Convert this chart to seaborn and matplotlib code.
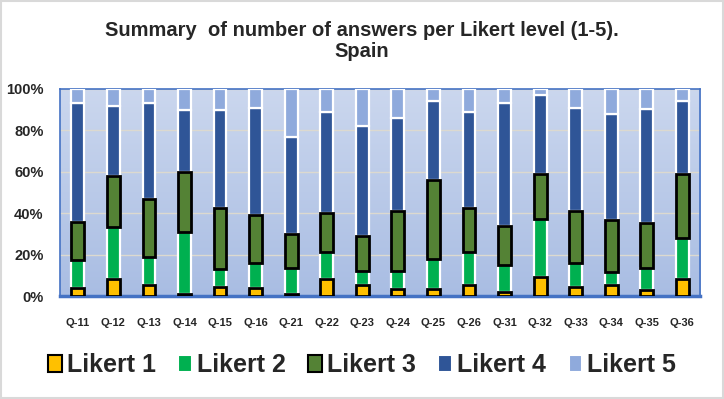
import numpy as np
import pandas as pd
import matplotlib
matplotlib.use("Agg")
import matplotlib.pyplot as plt
from matplotlib.colors import LinearSegmentedColormap
from matplotlib.patches import Patch, Rectangle
import seaborn as sns

# --- data (percent of answers per Likert level) ---
questions = ['Q-11', 'Q-12', 'Q-13', 'Q-14', 'Q-15', 'Q-16', 'Q-21', 'Q-22', 'Q-23',
             'Q-24', 'Q-25', 'Q-26', 'Q-31', 'Q-32', 'Q-33', 'Q-34', 'Q-35', 'Q-36']
likert1 = [4.0, 8.0, 5.5, 1.0, 4.5, 3.7, 1.0, 8.0, 5.5, 3.5, 3.5, 5.5, 2.0, 9.0, 4.5, 5.5, 3.0, 8.0]
likert2 = [13.5, 25.5, 13.5, 30.0, 8.5, 12.3, 12.5, 13.5, 6.5, 8.5, 14.5, 16.0, 13.0, 28.0, 11.5, 6.0, 10.5, 20.0]
likert3 = [18.5, 24.5, 28.0, 29.0, 29.5, 23.0, 16.5, 18.5, 17.0, 29.0, 38.0, 21.0, 18.7, 22.0, 25.0, 25.0, 22.0, 31.0]
likert4 = [57.0, 34.0, 46.0, 30.0, 47.5, 52.0, 47.0, 49.0, 53.0, 45.0, 38.0, 46.5, 59.3, 38.0, 49.6, 51.5, 55.0, 35.0]
likert5 = [7.0, 8.0, 7.0, 10.0, 10.0, 9.0, 23.0, 11.0, 18.0, 14.0, 6.0, 11.0, 7.0, 3.0, 9.4, 12.0, 9.5, 6.0]

level_names = ['Likert 1', 'Likert 2', 'Likert 3', 'Likert 4', 'Likert 5']
level_colors = ['#FFC000', '#00B050', '#548235', '#2F5597', '#8FAADC']
level_edges = ['black', 'white', 'black', 'white', 'white']

df = pd.DataFrame({'question': questions, 'Likert 1': likert1, 'Likert 2': likert2,
                   'Likert 3': likert3, 'Likert 4': likert4, 'Likert 5': likert5})
# normalise each row to 100%
vals = df[level_names].div(df[level_names].sum(axis=1), axis=0)

sns.set_style("white")
plt.rcParams['font.family'] = ['Liberation Sans', 'DejaVu Sans']

fig = plt.figure(figsize=(7.24, 3.99), dpi=100)
ax = fig.add_axes([0.083, 0.258, 0.884, 0.519])

bottom = np.zeros(len(questions))
for name, col, edge in zip(level_names, level_colors, level_edges):
    black = edge == 'black'
    sns.barplot(x=df['question'], y=vals[name].values, bottom=bottom, color=col,
                saturation=1, width=0.36, errorbar=None, ax=ax,
                edgecolor=edge, linewidth=2.0 if black else 1.6,
                zorder=4 if black else 3)
    bottom = bottom + vals[name].values

# plot area gradient
grad = LinearSegmentedColormap.from_list('bg', ['#cbd7ee', '#a9bde3'])
ax.imshow(np.linspace(0, 1, 256).reshape(-1, 1), cmap=grad, aspect='auto',
          extent=[-0.5, len(questions) - 0.5, 0, 1], zorder=0)
ax.set_xlim(-0.5, len(questions) - 0.5)
ax.set_ylim(0, 1)

ax.set_yticks([0, 0.2, 0.4, 0.6, 0.8, 1.0])
ax.set_yticklabels(['0%', '20%', '40%', '60%', '80%', '100%'], fontsize=10.5, fontweight='bold')
ax.set_xticks(range(len(questions)))
ax.set_xticklabels(questions, fontsize=8, fontweight='bold')
ax.set_xticks(np.arange(-0.5, len(questions)), minor=True)
ax.tick_params(axis='x', which='major', length=0, pad=16)
ax.tick_params(axis='x', which='minor', length=4, width=2, color='#4472C4', direction='out')
ax.tick_params(axis='y', length=0, pad=12)
ax.set_xlabel('')
ax.set_ylabel('')

ax.set_axisbelow(True)
ax.yaxis.grid(True, color='#dcd9cf', linewidth=1)
for side in ['left', 'top', 'right']:
    ax.spines[side].set_visible(True)
    ax.spines[side].set_color('#4472C4')
    ax.spines[side].set_linewidth(1.2)
ax.spines['bottom'].set_visible(True)
ax.spines['bottom'].set_color('#4472C4')
ax.spines['bottom'].set_linewidth(2.5)

fig.text(0.5, 0.897, 'Summary  of number of answers per Likert level (1-5).\nSpain',
         ha='center', va='center', fontsize=14.5, fontweight='bold', linespacing=1.15)

handles = [Patch(facecolor=c, edgecolor=e, linewidth=1.5) for c, e in zip(level_colors, level_edges)]
fig.legend(handles, level_names, loc='center', bbox_to_anchor=(0.5, 0.085), ncol=5,
           frameon=False, prop={'size': 18, 'weight': 'bold'},
           handlelength=0.55, handleheight=0.7, handletextpad=0.2, columnspacing=0.9)

fig.patches.append(Rectangle((0.002, 0.003), 0.996, 0.994, transform=fig.transFigure,
                             fill=False, edgecolor='#d9d9d9', linewidth=1.5))

fig.savefig('out.png', dpi=100)
